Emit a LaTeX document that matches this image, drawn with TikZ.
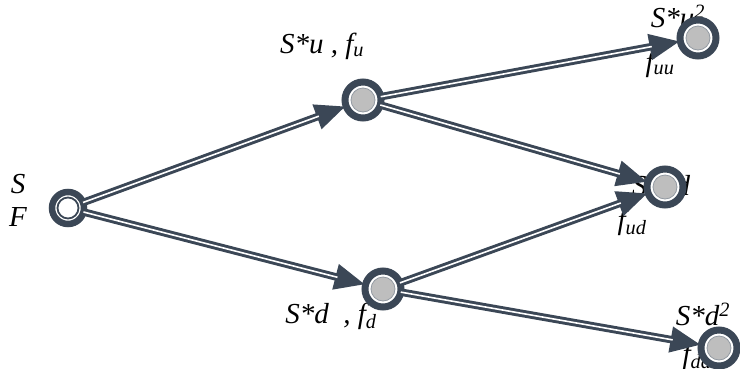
\documentclass[tikz,border=0pt]{standalone}
\usepackage{fontspec}
\setmainfont{Liberation Serif}
\usetikzlibrary{arrows.meta}
\definecolor{slate}{HTML}{3B4756}
\definecolor{ballc}{HTML}{BEBEBE}
\begin{document}
\begin{tikzpicture}[x=1pt, y=-1pt]
\tikzset{ >={Triangle[length=31pt, width=24pt]}, inner sep=0pt, outer sep=0pt,
  lbl/.style={font=\fontsize{29}{29}\selectfont\itshape},
  arc/.style={->, draw=slate, line width=7.5pt,
    postaction={draw=white, line width=1.6pt, -, shorten >=29pt}},
  ball/.style={circle, draw=slate, line width=7pt, fill=white, minimum size=36pt,
    path picture={\draw [slate!55, line width=0.8pt, fill=ballc]
      (path picture bounding box.center) circle (12pt);}},
  root/.style={circle, draw=slate, line width=6.5pt, fill=white, minimum size=32pt,
    path picture={\draw [slate, line width=1.8pt]
      (path picture bounding box.center) circle (10.5pt);}},
}
\useasboundingbox (0,0) rectangle (740,368);

% labels (drawn first, the balls cover part of them)
\node [lbl] (lS)  at (18,184)  {S};
\node [lbl] (lF)  at (18,217)  {F};
\node [lbl] (lU)  at (322,46)  {S*u , f\textsubscript{u}};
\node [lbl] (lD)  at (331,316) {S*d\ \ , f\textsubscript{d}};
\node [lbl] (lUU) at (678,16)  {S*u\textsuperscript{2}};
\node [lbl] (fUU) at (660,64)  {f\textsubscript{uu}};
\node [lbl] (lUD) at (661,186) {S*ud};
\node [lbl] (fUD) at (632,222) {f\textsubscript{ud}};
\node [lbl] (lDD) at (703,314) {S*d\textsuperscript{2}};
\node [lbl] (fDD) at (697,356) {f\textsubscript{dd}};

\node [root] (R)  at (68,208)  {};
\node [ball] (U)  at (363,100) {};
\node [ball] (D)  at (383,289) {};
\node [ball] (UU) at (698,38)  {};
\node [ball] (UD) at (665,187) {};
\node [ball] (DD) at (719,348) {};

\draw [arc] (R) -- (U);
\draw [arc] (R) -- (D);
\draw [arc] (U) -- (UU);
\draw [arc] (U) -- (UD);
\draw [arc] (D) -- (UD);
\draw [arc] (D) -- (DD);

\end{tikzpicture}
\end{document}
